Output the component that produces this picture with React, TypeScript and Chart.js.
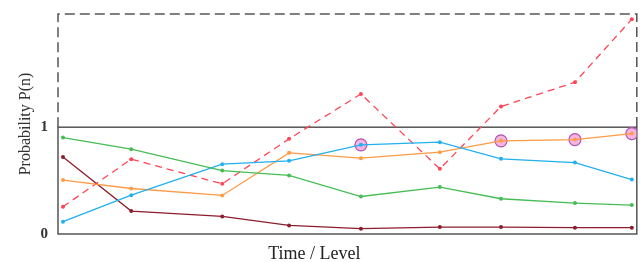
import React, { useEffect, useRef } from "react";
import { Chart, registerables } from "chart.js";

Chart.register(...registerables);

// Time positions of the nine observations (irregular spacing as in the figure)
const timePoints = [0, 0.96, 2.24, 3.18, 4.19, 5.3, 6.16, 7.2, 8.0];

const greenSeries = [0.903, 0.794, 0.594, 0.548, 0.351, 0.439, 0.33, 0.29, 0.271];
const blueSeries = [0.115, 0.364, 0.654, 0.685, 0.835, 0.86, 0.704, 0.669, 0.51];
const orangeSeries = [0.505, 0.426, 0.361, 0.76, 0.71, 0.766, 0.872, 0.884, 0.94];
const darkRedSeries = [0.72, 0.215, 0.165, 0.08, 0.05, 0.065, 0.065, 0.059, 0.059];
const redDashedSeries = [0.255, 0.701, 0.47, 0.891, 1.311, 0.61, 1.193, 1.421, 2.012];

// Highlighted (circled) points
const blueHighlights = [4];
const orangeHighlights = [6, 7, 8];

const yTickValues = [0, 1];
const yMax = 2.06;
const xMin = -0.07;
const xMax = 8.07;

const yTitle = "Probability P(n)";
const xTitle = "Time / Level";

const toPts = (vals: number[]) => vals.map((v, i) => ({ x: timePoints[i], y: v }));

export default function App() {
  const ref = useRef<HTMLCanvasElement | null>(null);

  useEffect(() => {
    if (!ref.current) return;
    const highlightPts = [
      ...blueHighlights.map((i) => ({ x: timePoints[i], y: blueSeries[i] })),
      ...orangeHighlights.map((i) => ({ x: timePoints[i], y: orangeSeries[i] })),
    ];

    const boxPlugin = {
      id: "boxes",
      beforeDatasetsDraw(chart: any) {
        const { ctx, chartArea, scales } = chart;
        const y1 = scales.y.getPixelForValue(1);
        const { left, right, top, bottom } = chartArea;
        ctx.save();
        ctx.strokeStyle = "#555555";
        ctx.lineWidth = 1.5;
        ctx.setLineDash([]);
        ctx.strokeRect(left, y1, right - left, bottom - y1);
        ctx.setLineDash([10, 5]);
        ctx.beginPath();
        ctx.moveTo(left, y1);
        ctx.lineTo(left, top);
        ctx.lineTo(right, top);
        ctx.lineTo(right, y1);
        ctx.stroke();
        ctx.restore();
      },
      afterDraw(chart: any) {
        const { ctx, chartArea } = chart;
        ctx.save();
        ctx.font = '18px "Liberation Serif"';
        ctx.fillStyle = "#222222";
        ctx.textAlign = "center";
        ctx.textBaseline = "alphabetic";
        ctx.fillText(xTitle, chartArea.left + chartArea.width * 0.443, 259);
        ctx.restore();
      },
    };

    const lineDs = (label: string, data: number[], color: string, dash: number[] = []) => ({
      label,
      data: toPts(data),
      borderColor: color,
      backgroundColor: color,
      borderWidth: 1.3,
      borderDash: dash,
      pointRadius: 2,
      pointBorderWidth: 0,
      pointBackgroundColor: color,
      showLine: true,
      tension: 0,
      order: 1,
    });

    const chart = new Chart(ref.current, {
      type: "scatter",
      data: {
        datasets: [
          lineDs("green", greenSeries, "#46bd55"),
          lineDs("blue", blueSeries, "#22b0ee"),
          lineDs("orange", orangeSeries, "#ff9a45"),
          lineDs("darkred", darkRedSeries, "#8c1d2e"),
          lineDs("red", redDashedSeries, "#ff4455", [7, 5]),
          {
            label: "highlight",
            data: highlightPts,
            showLine: false,
            pointRadius: 6,
            pointBackgroundColor: "rgba(240,150,215,0.7)",
            pointBorderColor: "#b050b0",
            pointBorderWidth: 1.2,
            order: 5,
          } as any,
        ],
      },
      options: {
        responsive: false,
        animation: false,
        layout: { padding: { top: 14, right: 7, bottom: 28, left: 0 } },
        plugins: { legend: { display: false }, tooltip: { enabled: false } },
        scales: {
          x: {
            type: "linear",
            display: false,
            min: xMin,
            max: xMax,
          },
          y: {
            type: "linear",
            min: 0,
            max: yMax,
            grid: { display: false, drawTicks: false },
            border: { display: false },
            afterBuildTicks: (scale: any) => {
              scale.ticks = yTickValues.map((v) => ({ value: v }));
            },
            afterFit: (scale: any) => {
              scale.width = 58;
              scale.paddingTop = 0;
              scale.paddingBottom = 0;
            },
            ticks: {
              padding: 10,
              color: "#333333",
              font: { family: '"Liberation Serif"', size: 15, weight: "bold" },
              callback: (v: any) => String(v),
            },
            title: {
              display: true,
              text: yTitle,
              color: "#333333",
              font: { family: '"Liberation Serif"', size: 16 },
              padding: { top: 16, bottom: 0 },
            },
          },
        },
      },
      plugins: [boxPlugin],
    } as any);

    return () => chart.destroy();
  }, []);

  return (
    <div style={{ position: "fixed", left: 0, top: 0, width: 644, height: 262, background: "#fff" }}>
      <canvas ref={ref} width={644} height={262} />
    </div>
  );
}
